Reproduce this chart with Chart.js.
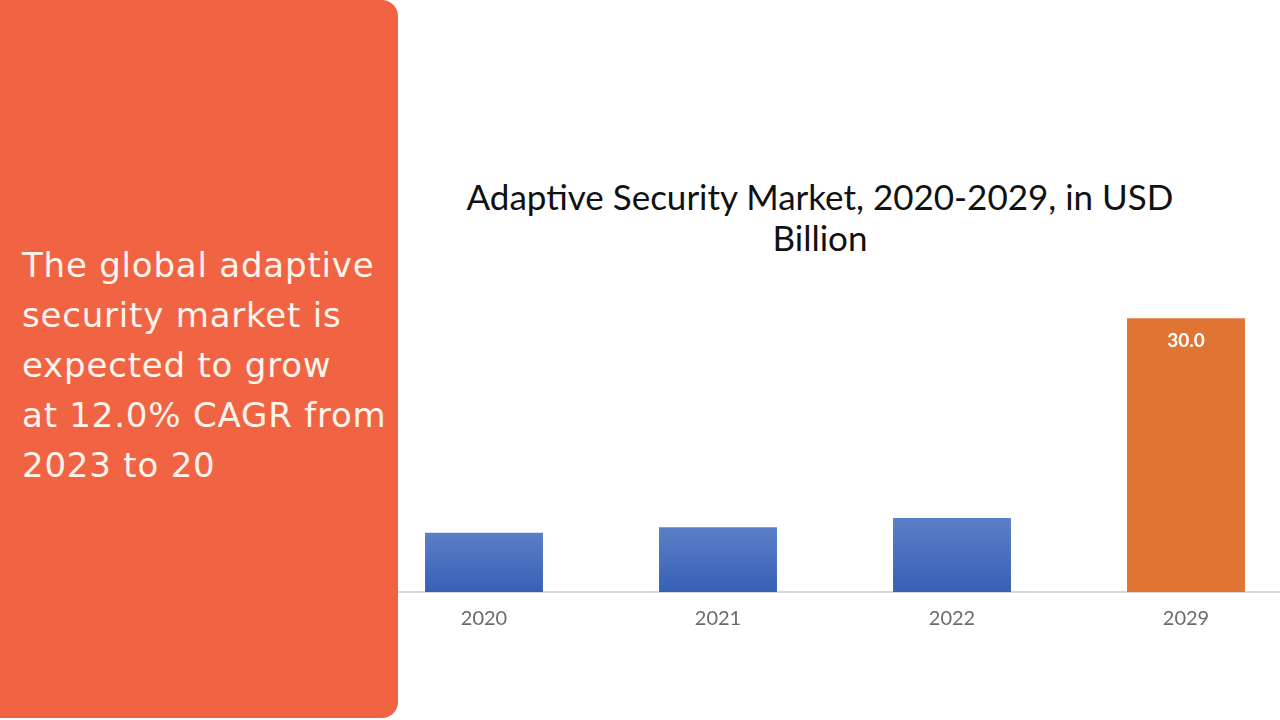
<!DOCTYPE html>
<html>
<head>
<meta charset="utf-8">
<script src="https://cdn.jsdelivr.net/npm/chart.js@4.4.1/dist/chart.umd.min.js"></script>
<style>
  html, body { margin: 0; padding: 0; width: 1280px; height: 720px; overflow: hidden; background: #ffffff; }
  #panel {
    position: absolute; left: 0; top: 0; width: 398px; height: 718px;
    background: #F06444; border-radius: 0 16px 16px 0; z-index: 2;
  }
  #panelText {
    position: absolute; left: 22px; top: 240px; width: 376px; white-space: nowrap;
    font-family: "DejaVu Sans", sans-serif; font-size: 34px; line-height: 50px;
    color: #FFF4EC; letter-spacing: 0.8px;
  }
  #title {
    position: absolute; left: 420px; width: 800px; top: 176px;
    text-align: center; font-family: Lato, "Noto Sans", sans-serif;
    font-size: 35px; line-height: 41px; color: #111111; z-index: 1;
  }
  #wrap { position: absolute; left: 367px; top: 300px; width: 936px; height: 420px; }
</style>
</head>
<body>
<div id="panel">
  <div id="panelText">The global adaptive<br>security market is<br>expected to grow<br>at 12.0% CAGR from<br>2023 to 20</div>
</div>
<div id="title">Adaptive Security Market, 2020-2029, in USD<br>Billion</div>
<div id="wrap"><canvas id="chart" width="936" height="420"></canvas></div>
<script>
// 연도별 시장 규모 (USD Billion)
const years = ['2020', '2021', '2022', '2029'];
const marketSize = [6.5, 7.1, 8.1, 30.0];
const valueLabels = ['', '', '', '30.0']; // 2029 막대에만 값 표시

// 막대별 세로 그라데이션 (파랑), 마지막은 주황
const barColor = (context) => {
    const chart = context.chart;
    const i = context.dataIndex;
    if (i === 3) return '#E07533';
    const yScale = chart.scales.y;
    if (!chart.chartArea || !yScale) return '#4A71BF';
    const top = yScale.getPixelForValue(marketSize[i]);
    const bottom = yScale.getPixelForValue(0);
    const g = chart.ctx.createLinearGradient(0, top, 0, bottom);
    g.addColorStop(0, '#5B7FC7');
    g.addColorStop(1, '#3760B5');
    return g;
};

const valueLabelPlugin = {
    id: 'valueLabel',
    afterDatasetsDraw(chart) {
        const ctx = chart.ctx;
        const meta = chart.getDatasetMeta(0);
        ctx.save();
        ctx.fillStyle = '#FFFFFF';
        ctx.font = 'bold 19px Lato, "Noto Sans", sans-serif';
        ctx.textAlign = 'center';
        ctx.textBaseline = 'middle';
        meta.data.forEach((bar, i) => {
            if (!valueLabels[i]) return;
            ctx.fillText(valueLabels[i], bar.x, bar.y + 23);
        });
        ctx.restore();
    }
};

new Chart(document.getElementById('chart').getContext('2d'), {
    type: 'bar',
    data: {
        labels: years,
        datasets: [{
            data: marketSize,
            backgroundColor: barColor,
            borderWidth: 0,
            categoryPercentage: 1.0,
            barPercentage: 0.504
        }]
    },
    options: {
        responsive: false,
        animation: false,
        layout: { padding: 0 },
        plugins: {
            legend: { display: false },
            tooltip: { enabled: false }
        },
        scales: {
            x: {
                afterFit(axis) { axis.height = 128; },
                grid: { display: false, drawTicks: false },
                border: { display: true, color: '#D9D9D9', width: 2 },
                ticks: {
                    color: '#6B6B6B',
                    padding: 15,
                    font: { family: 'Lato, "Noto Sans", sans-serif', size: 20 }
                }
            },
            y: {
                display: false,
                min: 0,
                max: 32
            }
        }
    },
    plugins: [valueLabelPlugin]
});
</script>
</body>
</html>
